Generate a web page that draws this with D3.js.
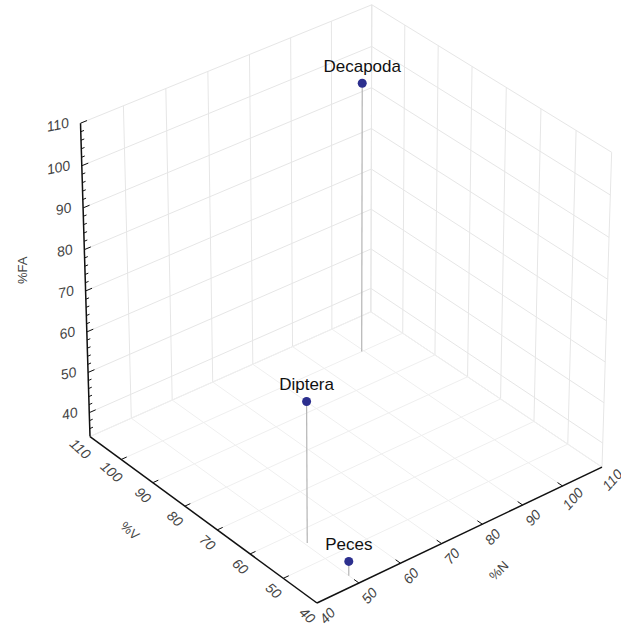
<!DOCTYPE html>
<html>
<head>
<meta charset="utf-8">
<script src="https://cdn.jsdelivr.net/npm/d3@7"></script>
<style>
  body { margin: 0; background: #fff; }
  svg { font-family: "Liberation Sans", Arial, sans-serif; }
</style>
</head>
<body>
<svg id="chart" width="621" height="630"></svg>
<script>
// data
var taxa = ["Decapoda", "Diptera", "Peces"];
var pctN = [99.5, 50.5, 50];
var pctV = [100, 56, 43];
var pctFA = [100.3, 68.5, 37.5];
var floorTicks = [40, 50, 60, 70, 80, 90, 100, 110];
var faTicks = [40, 50, 60, 70, 80, 90, 100, 110];

var svg = d3.select("#chart");

// scales into a unit box, then a small perspective camera
var nScale = d3.scaleLinear().domain([40, 110]).range([-1, 1]);
var vScale = d3.scaleLinear().domain([40, 110]).range([-1, 1]);
var faScale = d3.scaleLinear().domain([34, 110]).range([-1.01, 1.01]);
var faMin = 34, faMax = 110;

var az = 39 * Math.PI / 180,
    el = 33 * Math.PI / 180,
    dist = 30;

function raw(n, v, fa) {
  var X = nScale(n), Y = vScale(v), Z = faScale(fa);
  var xr = X * Math.cos(az) - Y * Math.sin(az);
  var back = X * Math.sin(az) + Y * Math.cos(az);
  var yr = Z * Math.cos(el) + back * Math.sin(el);
  var zc = -back * Math.cos(el) + Z * Math.sin(el);
  var f = dist / (dist - zc);
  return [xr * f, yr * f];
}

// place the box: left end, right end and front corner of the floor
var pL = raw(40, 110, faMin), pR = raw(110, 40, faMin), pF = raw(40, 40, faMin);
var k = (602 - 90) / (pR[0] - pL[0]);
var ox = 90 - k * pL[0], oy = 603 + k * pF[1];
function P(n, v, fa) {
  var r = raw(n, v, fa);
  return [ox + k * r[0], oy - k * r[1]];
}
function seg(g, a, b, color, w) {
  g.append("line")
    .attr("x1", a[0]).attr("y1", a[1])
    .attr("x2", b[0]).attr("y2", b[1])
    .attr("stroke", color).attr("stroke-width", w);
}

var gridColor = "#e6e6e6";
var grid = svg.append("g");

// back-left wall (V = 110)
floorTicks.forEach(function(t) {
  seg(grid, P(t, 110, faMin), P(t, 110, faMax), gridColor, 1);
});
faTicks.concat([faMin]).forEach(function(t) {
  seg(grid, P(40, 110, t), P(110, 110, t), gridColor, 1);
});
// back-right wall (N = 110)
floorTicks.forEach(function(t) {
  seg(grid, P(110, t, faMin), P(110, t, faMax), gridColor, 1);
});
faTicks.concat([faMin]).forEach(function(t) {
  seg(grid, P(110, 40, t), P(110, 110, t), gridColor, 1);
});
// floor
floorTicks.forEach(function(t) {
  seg(grid, P(t, 40, faMin), P(t, 110, faMin), "#efefef", 1);
  seg(grid, P(40, t, faMin), P(110, t, faMin), "#efefef", 1);
});

// drop lines
var drops = svg.append("g");
taxa.forEach(function(d, i) {
  seg(drops, P(pctN[i], pctV[i], pctFA[i]), P(pctN[i], pctV[i], faMin), "#b4b4b4", 1.2);
});

// axes
var axes = svg.append("g");
seg(axes, P(40, 110, faMin), P(40, 110, faMax), "#111", 1.5);
seg(axes, P(40, 40, faMin), P(40, 110, faMin), "#111", 1.5);
seg(axes, P(40, 40, faMin), P(110, 40, faMin), "#111", 1.5);

function dirTo(a, b, len) {
  var dx = b[0] - a[0], dy = b[1] - a[1], l = Math.sqrt(dx * dx + dy * dy);
  return [dx / l * len, dy / l * len];
}

// vertical axis ticks (minor every 2, major every 10)
d3.range(36, 111, 2).forEach(function(t) {
  var a = P(40, 110, t);
  var len = (t % 10 === 0) ? 7 : 3.5;
  var d = dirTo(a, P(48, 110, t), len);
  seg(axes, a, [a[0] + d[0], a[1] + d[1]], "#111", 1);
});
// floor axis ticks
floorTicks.slice(1, -1).forEach(function(t) {
  var a = P(40, t, faMin), d = dirTo(a, P(48, t, faMin), 6);
  seg(axes, a, [a[0] + d[0], a[1] + d[1]], "#111", 1);
  var b = P(t, 40, faMin), e = dirTo(b, P(t, 48, faMin), 6);
  seg(axes, b, [b[0] + e[0], b[1] + e[1]], "#111", 1);
});

// tick labels
var labels = svg.append("g")
  .attr("font-size", 14).attr("fill", "#444").attr("font-style", "italic");

faTicks.forEach(function(t) {
  var a = P(40, 110, t);
  labels.append("text")
    .attr("transform", "translate(" + (a[0] - 11) + "," + (a[1] + 4) + ") rotate(-12)")
    .attr("text-anchor", "end")
    .text(t);
});
floorTicks.forEach(function(t) {
  var a = P(40, t, faMin);
  labels.append("text")
    .attr("transform", "translate(" + (a[0] - 13) + "," + (a[1] + 16) + ") rotate(42)")
    .attr("text-anchor", "middle")
    .text(t);
  var b = P(t, 40, faMin);
  labels.append("text")
    .attr("transform", "translate(" + (b[0] + 14) + "," + (b[1] + 16) + ") rotate(-48)")
    .attr("text-anchor", "middle")
    .text(t);
});

// axis titles
var tFA = P(40, 110, 75);
labels.append("text")
  .attr("transform", "translate(" + (tFA[0] - 58) + "," + tFA[1] + ") rotate(-90)")
  .attr("text-anchor", "middle").attr("font-style", "normal").attr("font-size", 13)
  .text("%FA");
var tV = P(40, 75, faMin);
labels.append("text")
  .attr("transform", "translate(" + (tV[0] - 74) + "," + (tV[1] + 16) + ") rotate(42)")
  .attr("text-anchor", "middle").attr("font-style", "normal").attr("font-size", 13)
  .text("%V");
var tN = P(75, 40, faMin);
labels.append("text")
  .attr("transform", "translate(" + (tN[0] + 40) + "," + (tN[1] + 40) + ") rotate(-45)")
  .attr("text-anchor", "middle").attr("font-style", "normal").attr("font-size", 13)
  .text("%N");

// points and their names
var pts = svg.append("g");
taxa.forEach(function(d, i) {
  var p = P(pctN[i], pctV[i], pctFA[i]);
  pts.append("circle")
    .attr("cx", p[0]).attr("cy", p[1]).attr("r", 4.5)
    .attr("fill", "#2c2f8e");
  pts.append("text")
    .attr("x", p[0]).attr("y", p[1] - 11)
    .attr("text-anchor", "middle")
    .attr("font-size", 17).attr("fill", "#111")
    .text(d);
});
</script>
</body>
</html>
